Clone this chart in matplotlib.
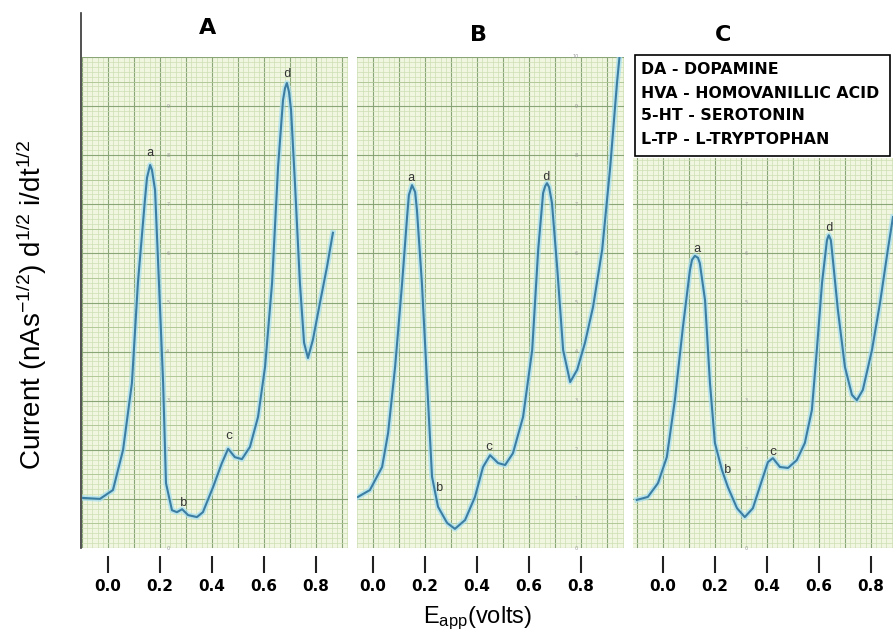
import matplotlib
matplotlib.use("Agg")
import numpy as np
from matplotlib import pyplot as plt
from matplotlib.patches import Rectangle
from matplotlib.lines import Line2D

# E (volts) vs current (chart units)
e_a = [-0.096, -0.031, 0.019, 0.058, 0.092, 0.115, 0.142, 0.150, 0.162, 0.169, 0.181, 0.196, 0.212, 0.223,
       0.246, 0.265, 0.285, 0.308, 0.342, 0.365, 0.404, 0.438, 0.462, 0.488, 0.515, 0.546,
       0.577, 0.604, 0.631, 0.654, 0.673, 0.681, 0.688, 0.696, 0.704, 0.719, 0.738, 0.754, 0.769, 0.788,
       0.815, 0.842, 0.865]
i_a = [1.02, 1.00, 1.18, 2.00, 3.36, 5.40, 7.09, 7.54, 7.80, 7.70, 7.29, 5.40, 3.36, 1.32,
       0.77, 0.73, 0.79, 0.67, 0.63, 0.73, 1.24, 1.73, 2.02, 1.85, 1.81, 2.06,
       2.67, 3.69, 5.40, 7.76, 9.12, 9.37, 9.47, 9.29, 8.92, 7.43, 5.40, 4.18, 3.87, 4.24,
       4.99, 5.72, 6.42]

e_b = [-0.058, -0.012, 0.035, 0.058, 0.085, 0.112, 0.131, 0.138, 0.150, 0.162, 0.169, 0.188, 0.208, 0.227,
       0.250, 0.285, 0.315, 0.354, 0.392, 0.423, 0.450, 0.481, 0.508, 0.538, 0.577, 0.612,
       0.635, 0.654, 0.662, 0.669, 0.677, 0.688, 0.708, 0.731, 0.758, 0.785, 0.815, 0.846, 0.881, 0.912,
       0.938, 0.954]
i_b = [1.04, 1.18, 1.65, 2.34, 3.69, 5.40, 6.74, 7.19, 7.39, 7.25, 6.88, 5.40, 3.36, 1.45,
       0.84, 0.51, 0.39, 0.57, 1.04, 1.65, 1.89, 1.73, 1.69, 1.93, 2.67, 4.03,
       6.07, 7.23, 7.37, 7.43, 7.35, 7.03, 5.72, 4.03, 3.38, 3.63, 4.18, 4.91, 6.07, 7.76,
       9.47, 10.35]

e_c = [-0.100, -0.058, -0.019, 0.015, 0.046, 0.077, 0.104, 0.112, 0.123, 0.135, 0.142, 0.162, 0.181, 0.200,
       0.227, 0.250, 0.285, 0.315, 0.346, 0.381, 0.404, 0.423, 0.450, 0.481, 0.515, 0.546,
       0.573, 0.592, 0.612, 0.631, 0.635, 0.638, 0.646, 0.650, 0.673, 0.700, 0.727, 0.746, 0.769, 0.804,
       0.835, 0.865, 0.885]
i_c = [0.98, 1.04, 1.32, 1.85, 3.01, 4.50, 5.66, 5.87, 5.95, 5.91, 5.80, 5.05, 3.36, 2.14,
       1.59, 1.24, 0.81, 0.63, 0.81, 1.38, 1.75, 1.83, 1.65, 1.63, 1.79, 2.14,
       2.81, 4.03, 5.40, 6.27, 6.33, 6.37, 6.27, 6.07, 4.85, 3.69, 3.12, 3.01, 3.22, 4.03,
       4.99, 6.07, 6.74]

peaks_a = [("a", 0.162, 8.04), ("b", 0.292, 0.92), ("c", 0.465, 2.28), ("d", 0.688, 9.65)]
peaks_b = [("a", 0.146, 7.54), ("b", 0.258, 1.22), ("c", 0.446, 2.06), ("d", 0.665, 7.56)]
peaks_c = [("a", 0.131, 6.09), ("b", 0.250, 1.59), ("c", 0.423, 1.96), ("d", 0.638, 6.52)]

ticks = [0.0, 0.2, 0.4, 0.6, 0.8]
tick_labels = ["0.0", "0.2", "0.4", "0.6", "0.8"]

legend_lines = ["DA - DOPAMINE", "HVA - HOMOVANILLIC ACID", "5-HT - SEROTONIN", "L-TP - L-TRYPTOPHAN"]

plt.rcParams["mathtext.fontset"] = "custom"
plt.rcParams["mathtext.rm"] = "Liberation Sans"
plt.rcParams["mathtext.it"] = "Liberation Sans"

W, H = 893, 639
fig = plt.figure(figsize=(W / 100, H / 100), dpi=100)

paper = "#f0f6e0"
minor_c = "#cddfb4"
mid_c = "#acc493"
major_c = "#8aa676"


def box(l, t, r, b):
    return [l / W, 1 - b / H, (r - l) / W, (b - t) / H]


def panel(rect, xlim, ylim, e, cur, peaks, scale_col, scale_top):
    ax = fig.add_axes(rect)
    ax.set_facecolor(paper)
    ax.set_xlim(*xlim)
    ax.set_ylim(*ylim)
    # chart paper grid
    for x in np.arange(-0.2, 1.01, 0.02):
        ax.axvline(x, color=minor_c, lw=0.5, zorder=0)
    for x in np.arange(-0.2, 1.01, 0.1):
        ax.axvline(x, color=major_c, lw=0.8, zorder=0)
    for y in np.arange(0, 10.6, 0.1):
        ax.axhline(y, color=minor_c, lw=0.5, zorder=0)
    for y in np.arange(0, 10.6, 0.5):
        ax.axhline(y, color=mid_c, lw=0.6, zorder=0)
    for y in np.arange(0, 10.6, 1.0):
        ax.axhline(y, color=major_c, lw=0.8, zorder=0)
    for n in range(0, scale_top + 1):
        ax.text(scale_col, n, str(n), fontsize=3.5, color="#999999", ha="center", va="center", zorder=1)
    # trace
    ax.plot(e, cur, color="#a5def2", lw=4.0, alpha=0.7, solid_joinstyle="round", zorder=2)
    ax.plot(e, cur, color="#3c7ea3", lw=1.5, solid_joinstyle="round", zorder=3)
    for lab, x, y in peaks:
        ax.text(x, y, lab, fontsize=9, family="Liberation Mono", color="#333333",
                ha="center", va="center", zorder=4)
    for s in ax.spines.values():
        s.set_visible(False)
    ax.spines["bottom"].set_position(("outward", 6))
    ax.set_xticks(ticks)
    ax.set_xticklabels(tick_labels, fontsize=11, fontweight="bold")
    ax.tick_params(axis="x", direction="out", length=12, width=1.5, pad=4, color="#222222")
    ax.set_yticks([])
    return ax


ax_a = panel(box(82, 57, 348, 548), (-0.1, 0.923), (0, 10), e_a, i_a, peaks_a, 0.23, 9)
ax_b = panel(box(357, 57, 624, 548), (-0.0615, 0.965), (0, 10), e_b, i_b, peaks_b, 0.78, 10)
ax_c = panel(box(633, 158, 893, 548), (-0.115, 0.885), (0, 390 / 49.1), e_c, i_c, peaks_c, 0.32, 7)

# panel letters
for lab, x, y in [("A", 208, 28), ("B", 478, 35), ("C", 723, 35)]:
    fig.text(x / W, 1 - y / H, lab, fontsize=16, fontweight="heavy", ha="center", va="center")

# left edge line
fig.add_artist(Line2D([81 / W, 81 / W], [1 - 13 / H, 1 - 548 / H], color="#333333", lw=1.2))

# legend box
fig.add_artist(Rectangle((635 / W, 1 - 156 / H), 255 / W, 101 / H, facecolor="white",
                         edgecolor="black", lw=1.2, transform=fig.transFigure, zorder=5))
for k, txt in enumerate(legend_lines):
    fig.text(641 / W, 1 - (70 + 23 * k) / H, txt, fontsize=11.3, fontweight="bold",
             ha="left", va="center", zorder=6)

fig.text(32 / W, 1 - 305 / H, r"Current (nAs$^{\mathrm{-1/2}}$) d$^{\mathrm{1/2}}$ i/dt$^{\mathrm{1/2}}$",
         rotation=90, fontsize=20, family="Liberation Sans", ha="center", va="center")
fig.text(478 / W, 1 - 618 / H, r"E$_{\mathrm{app}}$(volts)", fontsize=17, family="Liberation Sans",
         ha="center", va="center")

fig.savefig("out.png", dpi=100)
